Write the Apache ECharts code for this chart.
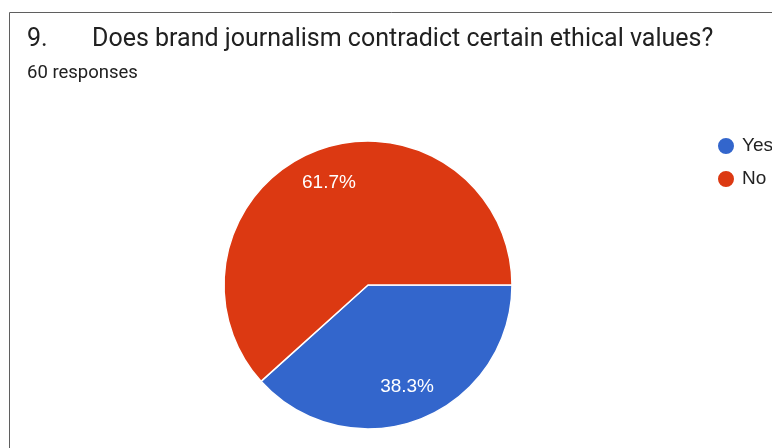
<!DOCTYPE html>
<html>
<head>
<meta charset="utf-8">
<script src="https://cdn.jsdelivr.net/npm/echarts@6/dist/echarts.min.js"></script>
<style>
html,body{margin:0;padding:0;background:#fff;}
#c{width:772px;height:448px;}
</style>
</head>
<body>
<div id="c"></div>
<script>
const questionNumber = "9.";
const questionText = "Does brand journalism contradict certain ethical values?";
const responsesText = "60 responses";
const categories = ["Yes", "No"];
const values = [23, 37];
const percentLabels = ["38.3%", "61.7%"];
const colors = ["#3366cc", "#dc3912"];

const chart = echarts.init(document.getElementById('c'), null, {renderer: 'canvas'});
const pieData = categories.map((c, i) => ({name: c, value: values[i], itemStyle: {color: colors[i]}}));
const labelData = categories.map((c, i) => ({name: c, value: values[i], label: {formatter: percentLabels[i]}}));

chart.setOption({
  animation: false,
  backgroundColor: '#ffffff',
  title: [
    {text: questionNumber, left: 27, top: 27, padding: 0,
     textStyle: {fontFamily: 'Roboto', fontSize: 25, fontWeight: 'normal', color: '#212121'}},
    {text: questionText, left: 92, top: 27, padding: 0,
     textStyle: {fontFamily: 'Roboto', fontSize: 25, fontWeight: 'normal', color: '#212121'}},
    {text: responsesText, left: 27, top: 64, padding: 0,
     textStyle: {fontFamily: 'Roboto', fontSize: 18.5, fontWeight: 'normal', color: '#212121'}}
  ],
  graphic: [
    {type: 'rect', silent: true, z: -1,
     shape: {x: 9.5, y: 12.5, width: 900, height: 600},
     style: {fill: 'none', stroke: '#5f5f5f', lineWidth: 1}}
  ],
  legend: {
    data: categories,
    orient: 'vertical',
    left: 711, top: 131,
    icon: 'circle',
    itemWidth: 18, itemHeight: 18, itemGap: 13,
    textStyle: {fontFamily: 'Liberation Sans', fontSize: 19, color: '#222222', padding: [0, 0, 0, 2]}
  },
  series: [
    {
      type: 'pie',
      center: [368, 285],
      radius: [0, 144],
      startAngle: 0,
      clockwise: true,
      data: pieData,
      label: {show: false},
      labelLine: {show: false},
      itemStyle: {borderColor: '#ffffff', borderWidth: 1.5},
      emphasis: {disabled: true}
    },
    {
      type: 'pie',
      center: [368, 285],
      radius: [0, 212],
      startAngle: 0,
      clockwise: true,
      silent: true,
      data: labelData,
      itemStyle: {color: 'rgba(0,0,0,0)'},
      label: {show: true, position: 'inside', color: '#ffffff',
               fontFamily: 'Liberation Sans', fontSize: 19},
      labelLine: {show: false},
      emphasis: {disabled: true}
    }
  ]
});
</script>
</body>
</html>
